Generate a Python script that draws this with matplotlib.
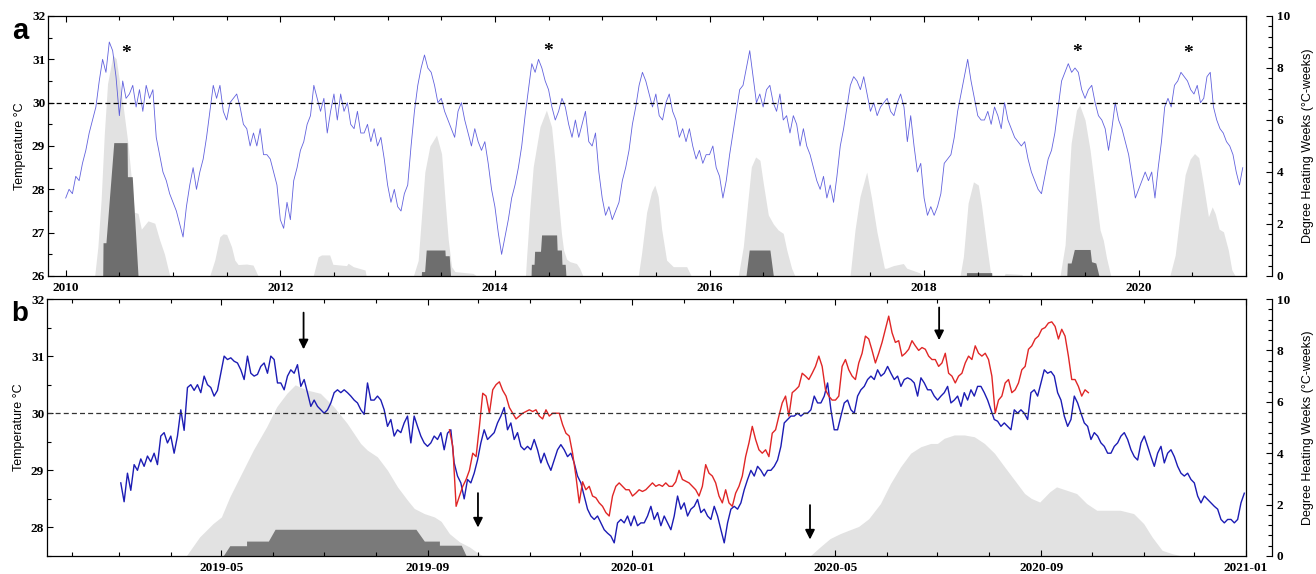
import numpy as np
import pandas as pd
import matplotlib
matplotlib.use('Agg')
import matplotlib.pyplot as plt
import matplotlib.dates as mdates
from matplotlib.ticker import MultipleLocator, FuncFormatter

plt.rcParams['font.family'] = 'Liberation Serif'
plt.rcParams['font.weight'] = 'bold'

# ---------- Panel a: Temperatur 2010-2020 (ca. 11-Tage-Werte je Jahr) ----------
t2010 = [27.8, 28.0, 27.9, 28.3, 28.2, 28.6, 28.9, 29.3, 29.6, 29.9, 30.5, 31.0, 30.7, 31.4, 31.2, 30.6,
         29.7, 30.5, 30.1, 30.2, 30.4, 29.9, 30.3, 29.8, 30.4, 30.1, 30.3, 29.2, 28.8, 28.4, 28.2, 27.9]
t2011 = [27.7, 27.5, 27.2, 26.9, 27.6, 28.1, 28.5, 28.0, 28.4, 28.7, 29.2, 29.8, 30.4, 30.1, 30.4, 29.8,
         29.6, 30.0, 30.1, 30.2, 29.9, 29.5, 29.4, 29.0, 29.3, 29.0, 29.4, 28.8, 28.8, 28.7, 28.4, 28.1]
t2012 = [27.3, 27.1, 27.7, 27.3, 28.2, 28.5, 28.9, 29.1, 29.5, 29.7, 30.4, 30.1, 29.8, 30.1, 29.3, 29.8,
         30.2, 29.6, 30.2, 29.8, 30.0, 29.5, 29.4, 29.8, 29.3, 29.3, 29.5, 29.1, 29.4, 29.0, 29.2, 28.7]
t2013 = [28.1, 27.7, 28.0, 27.6, 27.5, 27.9, 28.1, 29.0, 29.8, 30.4, 30.8, 31.1, 30.8, 30.7, 30.4, 30.0,
         30.1, 29.8, 29.6, 29.4, 29.2, 29.8, 30.0, 29.6, 29.3, 29.0, 29.4, 29.1, 28.9, 29.1, 28.6, 28.0]
t2014 = [27.6, 27.0, 26.5, 26.9, 27.3, 27.8, 28.1, 28.5, 29.0, 29.7, 30.3, 30.9, 30.7, 31.0, 30.8, 30.5,
         30.3, 29.9, 29.6, 29.8, 30.1, 29.9, 29.5, 29.2, 29.6, 29.2, 29.5, 29.8, 29.1, 29.0, 29.3, 28.4]
t2015 = [27.8, 27.4, 27.6, 27.3, 27.5, 27.7, 28.2, 28.5, 28.9, 29.5, 29.9, 30.4, 30.7, 30.5, 30.2, 29.9,
         30.2, 29.7, 29.6, 30.0, 30.2, 29.8, 29.6, 29.2, 29.4, 29.1, 29.4, 29.0, 28.7, 28.9, 28.6, 28.8]
t2016 = [28.8, 29.0, 28.5, 28.3, 27.8, 28.2, 28.8, 29.3, 29.8, 30.3, 30.4, 30.8, 31.2, 30.6, 30.0, 30.2,
         29.9, 30.3, 30.4, 30.0, 29.8, 30.2, 29.6, 29.7, 29.3, 29.7, 29.5, 29.0, 29.4, 29.0, 28.8, 28.5]
t2017 = [28.2, 28.0, 28.3, 27.8, 28.1, 27.7, 28.3, 29.0, 29.4, 29.9, 30.4, 30.6, 30.5, 30.3, 30.6, 30.2,
         29.8, 30.0, 29.7, 29.9, 30.0, 30.1, 29.8, 29.7, 30.0, 30.2, 29.9, 29.1, 29.7, 29.0, 28.4, 28.6]
t2018 = [27.8, 27.4, 27.6, 27.4, 27.6, 27.9, 28.6, 28.7, 28.8, 29.2, 29.8, 30.2, 30.6, 31.0, 30.5, 30.1,
         29.7, 29.6, 29.6, 29.8, 29.5, 29.9, 29.7, 29.4, 30.0, 29.6, 29.4, 29.2, 29.1, 29.0, 29.1, 28.7]
t2019 = [28.4, 28.2, 28.0, 27.9, 28.3, 28.7, 28.9, 29.3, 29.9, 30.5, 30.7, 30.9, 30.7, 30.8, 30.7, 30.3,
         30.1, 30.3, 30.4, 30.0, 29.7, 29.6, 29.4, 28.9, 29.4, 30.0, 29.6, 29.4, 29.1, 28.8, 28.3, 27.8]
t2020 = [28.0, 28.2, 28.4, 28.2, 28.4, 27.8, 28.5, 29.1, 29.9, 30.1, 29.9, 30.4, 30.5, 30.7, 30.6, 30.5,
         30.3, 30.2, 30.4, 30.0, 30.1, 30.6, 30.7, 29.9, 29.6, 29.4, 29.3, 29.1, 29.0, 28.8, 28.4, 28.1, 28.5]
jahre = [2010, 2011, 2012, 2013, 2014, 2015, 2016, 2017, 2018, 2019, 2020]
temps_a = [t2010, t2011, t2012, t2013, t2014, t2015, t2016, t2017, t2018, t2019, t2020]

# DHW hell (Jahr, Wert)
dhw_hell_x = [2010.27, 2010.30, 2010.33, 2010.36, 2010.39, 2010.44, 2010.47, 2010.50, 2010.54, 2010.58, 2010.61,
              2010.64, 2010.674, 2010.705, 2010.767, 2010.83, 2010.876, 2010.92, 2010.97,
              2011.342, 2011.389, 2011.436, 2011.467, 2011.50, 2011.545, 2011.576, 2011.607, 2011.685, 2011.746, 2011.793,
              2012.306, 2012.353, 2012.384, 2012.46, 2012.49, 2012.617, 2012.632, 2012.68, 2012.79, 2012.80,
              2013.24, 2013.285, 2013.316, 2013.347, 2013.394, 2013.456, 2013.503, 2013.534, 2013.565, 2013.596,
              2013.627, 2013.797, 2013.83,
              2014.285, 2014.295, 2014.326, 2014.357, 2014.42, 2014.48, 2014.528, 2014.559, 2014.59, 2014.62, 2014.64,
              2014.668, 2014.70, 2014.76, 2014.79, 2014.82,
              2015.336, 2015.367, 2015.414, 2015.46, 2015.49, 2015.522, 2015.554, 2015.60, 2015.662, 2015.787, 2015.83,
              2016.268, 2016.315, 2016.36, 2016.39, 2016.43, 2016.47, 2016.50, 2016.548, 2016.595, 2016.64, 2016.687,
              2016.72, 2016.765, 2016.796,
              2017.31, 2017.356, 2017.402, 2017.465, 2017.51, 2017.56, 2017.60, 2017.63, 2017.65, 2017.714, 2017.806,
              2017.838, 2017.96, 2017.99,
              2018.335, 2018.366, 2018.41, 2018.46, 2018.505, 2018.536, 2018.585, 2018.615, 2018.63, 2018.745, 2018.755,
              2018.91, 2018.92,
              2019.267, 2019.314, 2019.345, 2019.37, 2019.42, 2019.45, 2019.50, 2019.547, 2019.594, 2019.64, 2019.67,
              2019.70, 2019.74,
              2020.29, 2020.34, 2020.386, 2020.433, 2020.48, 2020.52, 2020.56, 2020.604, 2020.65, 2020.685, 2020.713,
              2020.75, 2020.79, 2020.835, 2020.868, 2020.9]
dhw_hell_y = [0, 1.13, 2.92, 5.48, 7.4, 8.49, 8.36, 7.53, 6.38, 5.1, 3.82, 2.45, 2.41, 1.8, 2.12, 2.03, 1.38, 0.85, 0,
              0, 0.61, 1.51, 1.62, 1.6, 1.13, 0.61, 0.44, 0.46, 0.42, 0,
              0, 0.74, 0.81, 0.81, 0.45, 0.4, 0.49, 0.36, 0.23, 0,
              0, 0.6, 2.3, 4.0, 5.0, 5.42, 4.7, 3.0, 1.4, 0.36, 0.17, 0.1, 0,
              0, 0.7, 2.6, 4.2, 5.74, 6.38, 5.74, 4.46, 3.0, 1.64, 1.0, 0.65, 0.55, 0.48, 0.3, 0,
              0, 0.87, 2.45, 3.24, 3.5, 3.05, 1.8, 0.61, 0.36, 0.36, 0,
              0, 1.13, 3.0, 4.2, 4.58, 4.45, 3.6, 2.35, 2.0, 1.77, 1.64, 1.0, 0.3, 0,
              0, 1.77, 3.05, 4.0, 3.0, 1.7, 0.9, 0.3, 0.3, 0.4, 0.48, 0.3, 0.12, 0,
              0, 0.74, 2.8, 3.62, 3.5, 2.7, 1.13, 0.23, 0, 0, 0.1, 0.06, 0,
              0, 1.2, 3.4, 5.1, 6.38, 6.57, 6.0, 4.84, 3.3, 1.77, 1.38, 0.7, 0,
              0, 0.8, 2.4, 3.9, 4.5, 4.71, 4.55, 3.5, 2.28, 2.66, 2.4, 1.8, 1.7, 1.0, 0.23, 0]

# DHW dunkel (Jahr, Wert)
dhw_dunkel_x = [2010.345, 2010.348, 2010.375, 2010.448, 2010.572, 2010.575, 2010.62, 2010.674,
                2013.314, 2013.316, 2013.345, 2013.36, 2013.534, 2013.537, 2013.574, 2013.587,
                2014.337, 2014.34, 2014.365, 2014.37, 2014.425, 2014.435, 2014.575, 2014.58, 2014.62, 2014.625,
                2014.655, 2014.662,
                2016.34, 2016.37, 2016.563, 2016.595,
                2018.394, 2018.395, 2018.63, 2018.631,
                2019.33, 2019.335, 2019.37, 2019.40, 2019.547, 2019.56, 2019.60, 2019.63]
dhw_dunkel_y = [0, 1.28, 1.28, 5.13, 5.13, 3.82, 3.82, 0,
                0, 0.17, 0.17, 1.0, 1.0, 0.78, 0.78, 0,
                0, 0.45, 0.45, 0.95, 0.95, 1.58, 1.58, 1.0, 1.0, 0.45, 0.45, 0,
                0, 1.0, 1.0, 0,
                0, 0.13, 0.13, 0,
                0, 0.5, 0.5, 1.02, 1.02, 0.55, 0.5, 0]

stern_x = [2010.56, 2014.50, 2019.43, 2020.46]
stern_y = [31.14, 31.18, 31.15, 31.14]

# ---------- Panel b: 2019-2020 (ca. 2-Tage-Werte) ----------
blau_b = [28.78, 28.45, 28.95, 28.65, 29.1, 29.0, 29.2, 29.07, 29.25, 29.15, 29.3, 29.1, 29.6, 29.66, 29.48,
          29.6, 29.3, 29.6, 30.06, 29.7, 30.45, 30.5, 30.4, 30.5, 30.36, 30.65, 30.5, 30.45, 30.3, 30.4,
          30.7, 31.0, 30.94, 30.97, 30.91, 30.88, 30.76, 30.59, 31.0, 30.7, 30.65, 30.68, 30.82, 30.88, 30.7,
          31.0, 30.94, 30.53, 30.53, 30.41, 30.65, 30.76, 30.7, 30.85, 30.47, 30.59, 30.36, 30.12, 30.23, 30.12,
          30.06, 30.0, 30.06, 30.18, 30.36, 30.41, 30.36, 30.41, 30.36, 30.3, 30.23, 30.18, 30.06, 29.98, 30.53,
          30.23, 30.23, 30.3, 30.23, 30.06, 29.77, 29.89, 29.6, 29.71, 29.66, 29.83, 29.95, 29.48, 29.95, 29.77,
          29.6, 29.48, 29.42, 29.48, 29.6, 29.54, 29.66,
          29.36, 29.65, 29.71, 29.13, 28.9, 28.78, 28.5, 28.84, 28.78, 28.95, 29.18, 29.48, 29.71, 29.54, 29.6,
          29.66, 29.83, 29.95, 30.1, 29.71, 29.83, 29.54, 29.66, 29.42, 29.36, 29.42, 29.36, 29.54, 29.36, 29.13,
          29.3, 29.13, 29.0, 29.18, 29.36, 29.45, 29.36, 29.24, 29.3, 29.13, 28.9, 28.78, 28.55, 28.32, 28.2,
          28.14, 28.2, 28.08, 27.96, 27.9, 27.85, 27.73, 28.08, 28.14, 28.08, 28.2, 28.03, 28.2, 28.03, 28.08,
          28.08, 28.2, 28.37, 28.14, 28.26, 28.03, 28.2, 28.08, 27.96, 28.2, 28.55, 28.32, 28.43, 28.2, 28.32,
          28.37, 28.49, 28.26, 28.32, 28.2, 28.14, 28.37, 28.2, 27.96, 27.73, 28.08, 28.32, 28.37, 28.32, 28.43,
          28.66, 28.84, 29.0, 28.9, 29.07, 29.0, 28.9, 29.0, 29.0, 29.07, 29.18, 29.42, 29.83, 29.89, 29.95,
          29.95, 30.0, 29.95, 30.0, 30.0, 30.06, 30.3, 30.18, 30.18, 30.3, 30.53, 30.06, 29.71, 29.71, 29.95,
          30.18, 30.23, 30.06, 30.0, 30.3, 30.41, 30.47, 30.59, 30.65,
          30.59, 30.76, 30.65, 30.7, 30.82, 30.7, 30.59, 30.65, 30.47, 30.59, 30.62, 30.59, 30.53, 30.3, 30.62,
          30.53, 30.41, 30.41, 30.3, 30.23, 30.3, 30.36, 30.47, 30.18, 30.23, 30.3, 30.12, 30.36, 30.23, 30.41,
          30.3, 30.47, 30.47, 30.36, 30.23, 30.06, 29.89, 29.86, 29.77, 29.83, 29.77, 29.71, 30.06, 30.0, 30.06,
          30.0, 29.89, 30.36, 30.41, 30.3, 30.53, 30.76, 30.7, 30.73, 30.65, 30.36, 30.23, 29.95, 29.77, 29.89,
          30.3, 30.18, 30.0, 29.83, 29.77, 29.54, 29.66, 29.6, 29.48, 29.42, 29.3, 29.3, 29.42, 29.48, 29.6,
          29.66, 29.54, 29.36, 29.24, 29.18, 29.48, 29.6, 29.42, 29.24, 29.07, 29.3, 29.42, 29.13, 29.3, 29.36,
          29.24, 29.07, 28.95, 28.9, 28.95, 28.84, 28.78, 28.55, 28.43, 28.55, 28.49, 28.43, 28.37, 28.32, 28.14,
          28.08, 28.14, 28.14, 28.08, 28.14, 28.43, 28.6]
rot_b = [29.71, 29.42, 28.37, 28.55, 28.72, 28.84, 29.0, 29.3, 29.24, 29.77, 30.35, 30.3, 30.0, 30.41, 30.5,
         30.55, 30.4, 30.3, 30.1, 30.0, 29.9, 29.95, 30.0, 30.03, 30.06, 30.03, 30.06, 29.95, 29.9, 30.06,
         29.95, 30.0, 30.0, 30.0, 29.8, 29.65, 29.6, 29.3, 28.9, 28.43, 28.8, 28.66, 28.72, 28.55, 28.52,
         28.43, 28.37, 28.26, 28.2, 28.55, 28.72, 28.78, 28.72, 28.66, 28.66, 28.55, 28.6, 28.66, 28.63, 28.66,
         28.72, 28.78, 28.72, 28.75, 28.72, 28.78, 28.72, 28.72, 28.8, 29.0, 28.84, 28.81, 28.78, 28.72, 28.66,
         28.55, 28.72, 29.1, 28.95, 28.9, 28.78, 28.55, 28.43, 28.66, 28.43, 28.37, 28.6, 28.72, 28.9, 29.24,
         29.48, 29.77, 29.54, 29.36, 29.3, 29.36, 29.24, 29.65, 29.71, 29.95, 30.18, 30.3, 29.95, 30.36, 30.41,
         30.47, 30.7, 30.65, 30.59, 30.7, 30.82, 31.0, 30.82, 30.41, 30.3, 30.23, 30.23, 30.3, 30.82, 30.94,
         30.76, 30.65, 30.59, 30.88, 31.05, 31.35, 31.3,
         31.1, 30.88, 31.05, 31.24, 31.47, 31.7, 31.41, 31.24, 31.27, 31.0, 31.05, 31.12, 31.27, 31.18, 31.1,
         31.15, 31.12, 31.0, 30.94, 30.94, 30.82, 30.88, 31.05, 30.7, 30.65, 30.53, 30.65, 30.7, 30.88, 31.0,
         30.94, 31.18, 31.05, 31.0, 31.05, 30.94, 30.65, 30.0, 30.23, 30.3, 30.53, 30.59, 30.36, 30.41, 30.53,
         30.76, 30.82, 31.12, 31.18, 31.3, 31.35, 31.47, 31.5, 31.58, 31.6, 31.52, 31.3, 31.47, 31.35, 31.0,
         30.59, 30.59, 30.47, 30.3, 30.41, 30.36]

dhw_b_hell_t = ['2019-04-10', '2019-04-18', '2019-04-26', '2019-05-01', '2019-05-06', '2019-05-12', '2019-05-20',
                '2019-05-28', '2019-06-03', '2019-06-09', '2019-06-14', '2019-06-21', '2019-06-29', '2019-07-07',
                '2019-07-15', '2019-07-23', '2019-07-27', '2019-08-02', '2019-08-08', '2019-08-14', '2019-08-20',
                '2019-08-24', '2019-08-30', '2019-09-05', '2019-09-09', '2019-09-14', '2019-09-20', '2019-09-26',
                '2019-09-30', '2019-10-04',
                '2020-04-16', '2020-04-22', '2020-04-28', '2020-05-04', '2020-05-09', '2020-05-15', '2020-05-21',
                '2020-05-28', '2020-06-03', '2020-06-09', '2020-06-15', '2020-06-21', '2020-06-27', '2020-07-01',
                '2020-07-05', '2020-07-11', '2020-07-17', '2020-07-23', '2020-07-29', '2020-08-04', '2020-08-10',
                '2020-08-16', '2020-08-22', '2020-08-26', '2020-08-31', '2020-09-06', '2020-09-10', '2020-09-16',
                '2020-09-22', '2020-09-28', '2020-10-04', '2020-10-10', '2020-10-18', '2020-10-26', '2020-11-01',
                '2020-11-06', '2020-11-12', '2020-11-18', '2020-11-24']
dhw_b_hell = [0, 0.74, 1.26, 1.52, 2.3, 3.08, 4.12, 5.03, 5.81, 6.33, 6.66, 6.46, 6.33, 5.81, 5.16, 4.38, 4.12,
              3.86, 3.34, 2.69, 2.17, 1.85, 1.65, 1.52, 1.35, 0.87, 0.55, 0.35, 0.16, 0,
              0, 0.35, 0.68, 0.87, 1.0, 1.15, 1.45, 2.04, 2.82, 3.47, 4.0, 4.25, 4.38, 4.38, 4.58, 4.71, 4.71,
              4.64, 4.38, 4.0, 3.47, 2.95, 2.43, 2.24, 2.1, 2.5, 2.69, 2.56, 2.43, 2.04, 1.78, 1.78, 1.78, 1.65,
              1.26, 0.74, 0.22, 0.09, 0]
dhw_b_dunkel_t = ['2019-05-02', '2019-05-06', '2019-05-16', '2019-05-16', '2019-05-29', '2019-06-02',
                  '2019-08-25', '2019-08-30', '2019-09-08', '2019-09-08', '2019-09-21', '2019-09-24']
dhw_b_dunkel = [0, 0.4, 0.4, 0.58, 0.58, 1.04, 1.04, 0.58, 0.58, 0.42, 0.42, 0]

# Pfeile: (Datum, Start, Spitze)
pfeil_t = ['2019-06-19', '2019-10-01', '2020-04-16', '2020-07-02']
pfeil_von = [31.81, 28.65, 28.44, 31.90]
pfeil_bis = [31.07, 27.95, 27.74, 31.23]

schwelle = 30.0

# Abbildung erstellen
fig = plt.figure(figsize=(13.16, 5.74), dpi=100)
ax_a = fig.add_axes([48/1316, 1-276/574, 1198/1316, 260/574])
ax_b = fig.add_axes([47/1316, 1-556/574, 1199/1316, 257/574])
ax_a2 = ax_a.twinx()
ax_b2 = ax_b.twinx()

label_font = dict(family='Liberation Sans', weight='normal', size=9)

# Panel a
xa = np.concatenate([np.linspace(j, j + 1, len(t), endpoint=False) for j, t in zip(jahre, temps_a)])
ya = np.concatenate(temps_a)
ax_a.plot(xa, ya, '-', color='#4646d8', lw=0.6, alpha=0.85)
ax_a.axhline(schwelle, color='k', ls=(0, (4, 2.5)), lw=0.9)
for sx, sy in zip(stern_x, stern_y):
    ax_a.text(sx, sy, '*', ha='center', va='center', fontsize=14, fontweight='bold')
ax_a2.fill_between(dhw_hell_x, dhw_hell_y, color='#e2e2e2', lw=0)
ax_a2.fill_between(dhw_dunkel_x, dhw_dunkel_y, color='#6e6e6e', lw=0)

ax_a.set_xlim(2009.835, 2021.0)
ax_a.set_ylim(26, 32)
ax_a2.set_ylim(0, 10)
ax_a.xaxis.set_major_locator(MultipleLocator(2))
ax_a.xaxis.set_minor_locator(MultipleLocator(0.5))
ax_a.xaxis.set_major_formatter(FuncFormatter(lambda v, p: '%d' % v))

# Panel b
tb = pd.date_range('2019-03-02', '2020-12-31', periods=len(blau_b))
tr = pd.date_range('2019-09-14', '2020-09-29', periods=len(rot_b))
ax_b.plot(tb, blau_b, '-', color='#1c1cb4', lw=1.0)
ax_b.plot(tr, rot_b, '-', color='#e02626', lw=1.0)
ax_b.axhline(schwelle, color='#333333', ls=(0, (4, 2.5)), lw=0.9)
ax_b2.fill_between(pd.to_datetime(dhw_b_hell_t), dhw_b_hell, color='#e2e2e2', lw=0)
ax_b2.fill_between(pd.to_datetime(dhw_b_dunkel_t), dhw_b_dunkel, color='#7a7a7a', lw=0)
for pt, p0, p1 in zip(pd.to_datetime(pfeil_t), pfeil_von, pfeil_bis):
    ax_b.annotate('', xy=(pt, p1), xytext=(pt, p0),
                  arrowprops=dict(arrowstyle='-|>', color='k', lw=1.3, mutation_scale=14))

ax_b.set_xlim(pd.Timestamp('2019-01-17'), pd.Timestamp('2021-01-01'))
ax_b.set_ylim(27.5, 32)
ax_b2.set_ylim(0, 10)
ax_b.xaxis.set_major_locator(mdates.MonthLocator(bymonth=[1, 5, 9]))
ax_b.xaxis.set_minor_locator(mdates.MonthLocator())
ax_b.xaxis.set_major_formatter(mdates.DateFormatter('%Y-%m'))

for ax, ax2 in [(ax_a, ax_a2), (ax_b, ax_b2)]:
    ax.set_zorder(ax2.get_zorder() + 1)
    ax.patch.set_visible(False)
    ax.yaxis.set_major_locator(MultipleLocator(1))
    ax.yaxis.set_minor_locator(MultipleLocator(0.5))
    ax.tick_params(which='both', direction='in', top=True, right=False, labelsize=9.5, width=0.8)
    ax.tick_params(which='major', length=4)
    ax.tick_params(which='minor', length=3)
    ax.tick_params(axis='x', pad=4)
    ax.tick_params(axis='y', pad=2)
    ax.set_ylabel('Temperature °C', fontdict=label_font, labelpad=4)
    ax2.yaxis.set_major_locator(MultipleLocator(2))
    ax2.yaxis.set_minor_locator(MultipleLocator(0.4))
    ax2.spines['right'].set_position(('outward', 19))
    for s in ['left', 'top', 'bottom']:
        ax2.spines[s].set_visible(False)
    ax2.tick_params(which='both', direction='in', labelsize=9.5, width=0.8, pad=3)
    ax2.tick_params(which='major', length=4)
    ax2.tick_params(which='minor', length=3)
    ax2.set_ylabel('Degree Heating Weeks (°C-weeks)', fontdict=label_font, labelpad=9)
    for lbl in ax.get_xticklabels() + ax.get_yticklabels() + ax2.get_yticklabels():
        lbl.set_fontweight('bold')
    for s in ax.spines.values():
        s.set_linewidth(0.9)
    ax2.spines['right'].set_linewidth(0.9)

fig.text(12/1316, 1-31/574, 'a', family='Liberation Sans', weight='bold', fontsize=21, va='center')
fig.text(11/1316, 1-314/574, 'b', family='Liberation Sans', weight='bold', fontsize=20, va='center')

fig.savefig('out.png', dpi=100)
